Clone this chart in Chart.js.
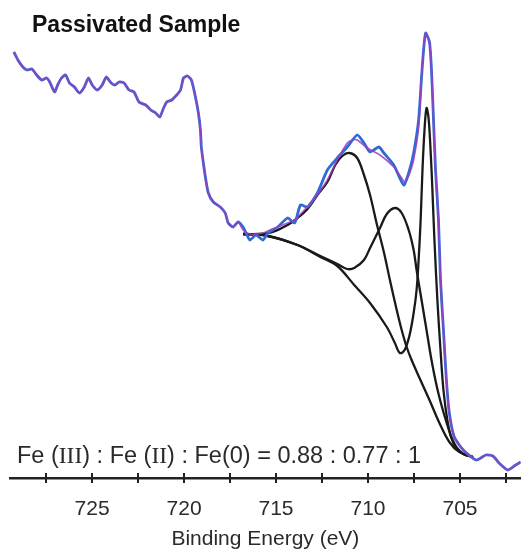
<!DOCTYPE html>
<html><head><meta charset="utf-8">
<script src="https://cdn.jsdelivr.net/npm/chart.js@4.4.0/dist/chart.umd.min.js"></script>
<style>html,body{margin:0;padding:0;background:#fff;}canvas{display:block;}</style>
</head><body>
<canvas id="c" width="525" height="550"></canvas>
<script>
// ---- data (binding energy eV, intensity a.u.) ----
const titleText = 'Passivated Sample';
const axisTitle = 'Binding Energy (eV)';
const tickValues = [727.5,725,722.5,720,717.5,715,712.5,710,707.5,705,702.5];
const labelValues = [725,720,715,710,705];
const ratioValues = [0.88, 0.77, 1];

const spectrum = [[729.25,426],[729.03,418],[728.76,411],[728.54,408],[728.27,409],[728.01,403],[727.74,398],[727.47,400],[727.30,396],[727.04,386],[726.87,393],[726.66,400],[726.44,403],[726.23,395],[725.96,391],[725.69,385],[725.42,391],[725.20,400],[724.99,393],[724.72,388],[724.45,393],[724.23,401],[723.96,395],[723.75,393],[723.53,396],[723.26,395],[722.99,388],[722.72,386],[722.45,376],[722.08,373],[721.81,368],[721.54,365],[721.32,361],[721.11,370],[720.94,376],[720.67,378],[720.40,383],[720.19,388],[720.03,400],[719.81,402],[719.60,398],[719.38,381],[719.22,365],[719.11,348],[719.06,331],[718.95,315],[718.84,301],[718.68,285],[718.41,276],[718.03,271],[717.76,265],[717.60,255],[717.33,251],[717.06,256],[716.79,251],[716.63,245],[716.42,238],[716.09,243],[715.71,238],[715.44,245],[714.91,251],[714.37,260],[713.99,255],[713.67,273],[713.29,271],[712.75,285],[712.21,308],[711.67,320],[711.13,331],[710.59,343],[710.22,335],[709.89,326],[709.41,331],[709.14,325],[708.60,313],[708.06,293],[707.79,305],[707.52,325],[707.25,358],[707.09,401],[706.98,428],[706.87,445],[706.66,436],[706.55,408],[706.44,358],[706.33,308],[706.17,258],[706.06,198],[705.90,148],[705.74,98],[705.58,65],[705.31,41],[704.82,28],[704.12,18],[703.59,23],[703.21,22],[702.88,15],[702.40,8],[701.97,13],[701.70,16]];

const fitMiddle = [[716.79,248],[716.42,244],[716.09,244],[715.71,245],[715.34,248],[714.91,251],[714.37,255],[713.99,258],[713.56,266],[713.13,275],[712.64,286],[712.21,298],[711.67,318],[711.13,335],[710.86,338],[710.59,338],[710.05,330],[709.35,323],[708.60,311],[708.17,300],[708.01,296],[707.79,302],[707.52,318],[707.25,350]];

const feIII = [[716.79,244],[715.98,244],[715.18,246],[714.37,253],[713.83,260],[713.29,269],[712.75,283],[712.21,296],[711.78,313],[711.40,322],[711.02,325],[710.59,320],[710.22,303],[709.89,283],[709.51,253],[709.14,226],[708.81,198],[708.44,168],[708.17,148],[707.90,131],[707.63,118],[707.20,100],[706.66,78],[706.12,55],[705.58,36],[705.04,26],[704.29,21]];

const feII = [[716.79,244],[715.44,242],[713.83,233],[712.59,222],[711.67,214],[711.13,209],[710.75,210],[710.22,218],[709.89,230],[709.35,250],[708.98,264],[708.54,270],[708.17,265],[707.79,248],[707.52,228],[707.36,208],[707.09,178],[706.82,148],[706.55,118],[706.28,93],[706.01,73],[705.74,56],[705.47,41],[705.20,31],[704.82,24],[704.29,21]];

const fe0 = [[716.79,244],[715.44,242],[713.83,233],[712.59,221],[711.67,212],[710.75,193],[709.89,175],[708.98,151],[708.54,135],[708.27,125],[708.01,128],[707.74,143],[707.52,165],[707.36,188],[707.25,218],[707.14,258],[707.04,308],[706.93,348],[706.82,370],[706.71,360],[706.60,328],[706.50,288],[706.39,238],[706.23,178],[706.06,128],[705.90,88],[705.69,58],[705.47,40],[705.20,30],[704.82,24],[704.29,21]];

// ---- build ----
const toXY = arr => arr.map(p => ({x: p[0], y: p[1]}));
const envelope = spectrum.filter(p => p[0] > 716.9)
  .concat(fitMiddle)
  .concat(spectrum.filter(p => p[0] < 707.2));

const SANS = '"Liberation Sans", Arial, Helvetica, sans-serif';
const SERIF = '"Liberation Serif", "Times New Roman", serif';
Chart.defaults.font.family = SANS;

const ratioParts = [
  ['Fe (', SANS], ['III', SERIF], [') : Fe (', SANS], ['II', SERIF],
  [') : Fe(0) = ' + ratioValues[0].toFixed(2) + ' : ' + ratioValues[1].toFixed(2) + ' : ' + ratioValues[2], SANS]
];

const deco = {
  id: 'deco',
  afterDraw(chart) {
    const ctx = chart.ctx, xs = chart.scales.x, axisY = xs.top;
    ctx.save();
    ctx.strokeStyle = '#222'; ctx.lineWidth = 2;
    tickValues.forEach(v => {
      const px = Math.round(xs.getPixelForValue(v));
      ctx.beginPath(); ctx.moveTo(px, axisY - 5); ctx.lineTo(px, axisY + 5); ctx.stroke();
    });
    ctx.fillStyle = '#111'; ctx.textAlign = 'left'; ctx.textBaseline = 'alphabetic';
    ctx.font = 'bold 23px ' + SANS;
    ctx.fillText(titleText, 32, 32);
    ctx.fillStyle = '#2a2a2a';
    let x = 17; const y = 463;
    ratioParts.forEach(([t, f]) => {
      ctx.font = '23.5px ' + f;
      ctx.fillText(t, x, y);
      x += ctx.measureText(t).width;
    });
    ctx.restore();
  }
};

new Chart(document.getElementById('c'), {
  type: 'line',
  data: {
    datasets: [
      {label: 'Fe(0)', data: toXY(fe0), borderColor: '#1a1a1a', borderWidth: 2.3, tension: 0.35, order: 5},
      {label: 'Fe(II)', data: toXY(feII), borderColor: '#1a1a1a', borderWidth: 2.3, tension: 0.35, order: 4},
      {label: 'Fe(III)', data: toXY(feIII), borderColor: '#1a1a1a', borderWidth: 2.3, tension: 0.35, order: 3},
      {label: 'Measured', data: toXY(spectrum), borderColor: '#2f6bd6', borderWidth: 2.8, tension: 0.2, order: 2},
      {label: 'Envelope', data: toXY(envelope), borderColor: 'rgba(160,60,190,0.85)', borderWidth: 1.6, tension: 0.25, order: 1}
    ]
  },
  options: {
    responsive: false, animation: false, devicePixelRatio: 1,
    elements: {point: {radius: 0}},
    layout: {padding: {left: 10, right: 0, top: 18, bottom: 0}},
    plugins: {legend: {display: false}, tooltip: {enabled: false}, title: {display: false}},
    scales: {
      x: {
        type: 'linear', reverse: true, min: 701.7, max: 729.46, position: 'bottom',
        afterBuildTicks: s => { s.ticks = tickValues.map(v => ({value: v})); },
        afterFit: s => { s.height = 72; },
        grid: {display: false, drawTicks: false},
        border: {display: true, color: '#222', width: 2.5},
        ticks: {autoSkip: false, maxRotation: 0, padding: 19, color: '#2a2a2a',
          font: {size: 21}, callback: v => labelValues.includes(v) ? String(v) : ''},
        title: {display: true, text: axisTitle, color: '#2a2a2a', font: {size: 21}, padding: {top: 0, bottom: -2}}
      },
      y: {type: 'linear', display: false, min: 0, max: 460}
    }
  },
  plugins: [deco]
});
</script>
</body></html>
